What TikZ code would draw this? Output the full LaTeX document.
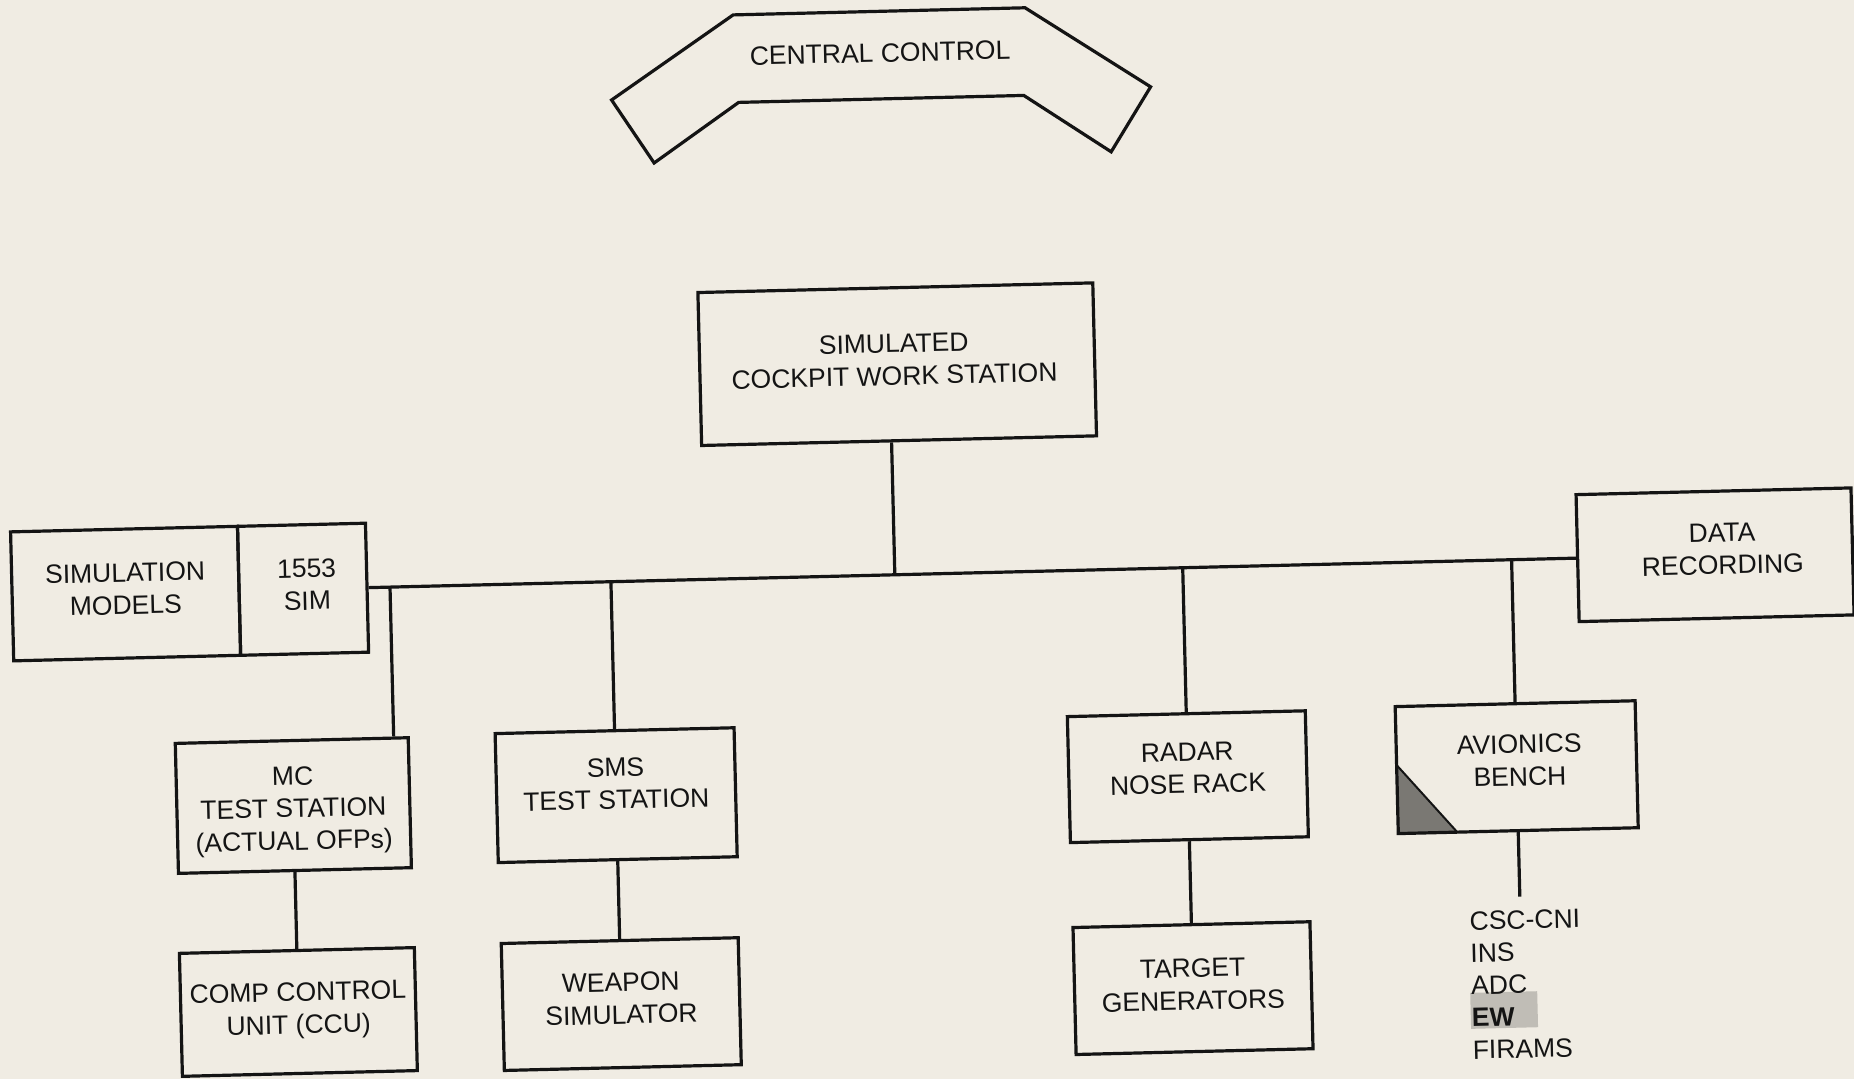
\documentclass[tikz,border=0pt]{standalone}
\usepackage{fontspec}
\setmainfont{Liberation Sans}
\definecolor{paper}{RGB}{240,236,227}
\definecolor{ink}{RGB}{20,20,20}
\definecolor{smudge}{RGB}{192,189,182}
\definecolor{stipple}{RGB}{122,120,115}
\newcommand{\lbfont}{\fontsize{26.5}{32.5}\selectfont}
\newcommand{\lstfont}{\fontsize{26.5}{32.2}\selectfont}
\newcommand{\bxlabel}[3][0pt]{\raisebox{#2}[\height][\depth]{\hspace*{#1}\begin{tabular}{@{}c@{}}#3\end{tabular}}}
\begin{document}
\begin{tikzpicture}[x=1pt,y=-1pt,
  box/.style={draw=ink, line width=3.2pt, rectangle, inner sep=0pt, font=\lbfont, text=ink},
  wire/.style={draw=ink, line width=3.2pt},
  outline/.style={draw=ink, line width=3.2pt, line join=miter},
  lbl/.style={inner sep=0pt, font=\lbfont, text=ink}]
\fill[paper] (0,0) rectangle (1854,1079);
\useasboundingbox (0,0) rectangle (1854,1079);
\begin{scope}[rotate around={1.4:(927,540)}, transform shape]
  % central control
  \draw[outline] (622.4,92.4) -- (746,10.3) -- (1038,10.3) -- (1161.6,92.4)
     -- (1120.6,156.4) -- (1034.6,97.9) -- (749.4,97.9) -- (663.4,156.4) -- cycle;
  \node[lbl] (cctext) at (892,52) {CENTRAL CONTROL};

  % shaded corner of avionics bench and smudge behind EW
  \fill[stipple] (1391,776.5) -- (1391,845) -- (1450,845) -- cycle;
  \draw[ink, line width=2pt] (1391,776.5) -- (1450,845);
  \fill[smudge] (1459,1006) rectangle (1526,1042);

  % boxes
  \node[box, minimum width=395pt, minimum height=153pt] (cws) at (901.5,363.5)
     {\bxlabel[-6pt]{1.8pt}{SIMULATED\\COCKPIT WORK STATION}};
  \node[box, minimum width=227pt, minimum height=129pt] (simmod) at (124.5,574)
     {\bxlabel{2pt}{SIMULATION\\MODELS}};
  \node[box, minimum width=128pt, minimum height=129pt] (sim1553) at (302,574)
     {\bxlabel[8pt]{2pt}{1553\\SIM}};
  \node[box, minimum width=275pt, minimum height=127pt] (data) at (1714.5,574)
     {\bxlabel[15pt]{3pt}{DATA\\RECORDING}};
  \node[box, minimum width=233pt, minimum height=130pt] (mc) at (287,790)
     {\bxlabel{-5.5pt}{MC\\TEST STATION\\(ACTUAL OFPs)}};
  \node[box, minimum width=235pt, minimum height=123pt] (ccu) at (287,996.5)
     {\bxlabel{1pt}{COMP CONTROL\\UNIT (CCU)}};
  \node[box, minimum width=239pt, minimum height=129pt] (sms) at (610,787.5)
     {\bxlabel{9pt}{SMS\\TEST STATION}};
  \node[box, minimum width=237pt, minimum height=127pt] (weapon) at (610,996.5)
     {\bxlabel{3pt}{WEAPON\\SIMULATOR}};
  \node[box, minimum width=238pt, minimum height=126pt] (radar) at (1182,783)
     {\bxlabel{6pt}{RADAR\\NOSE RACK}};
  \node[box, minimum width=237pt, minimum height=127pt] (target) at (1182,994.5)
     {\bxlabel{1pt}{TARGET\\GENERATORS}};
  \node[box, minimum width=240pt, minimum height=127pt] (av) at (1511,781.5)
     {\bxlabel[6pt]{4pt}{AVIONICS\\BENCH}};
  \node[lbl, font=\lstfont, anchor=base west] (avlist) at (1460,943.5)
     {\begin{tabular}[t]{@{}l@{}}CSC-CNI\\INS\\ADC\\\textbf{EW}\\FIRAMS\end{tabular}};

  % junctions and free ends
  \coordinate (jcws) at (894,574);
  \coordinate (jmc) at (389,574);
  \coordinate (avend) at (1511,911);

  % connectors
  \draw[wire] (sim1553.east) -- (data.west);
  \draw[wire] (cws.south -| jcws) -- (jcws);
  \draw[wire] (jmc) -- (mc.north -| jmc);
  \draw[wire] (sms.north |- sim1553.east) -- (sms.north);
  \draw[wire] (radar.north |- sim1553.east) -- (radar.north);
  \draw[wire] (av.north |- sim1553.east) -- (av.north);
  \draw[wire] (mc.south) -- (ccu.north);
  \draw[wire] (sms.south) -- (weapon.north);
  \draw[wire] (radar.south) -- (target.north);
  \draw[wire] (av.south) -- (avend);
\end{scope}
\end{tikzpicture}
\end{document}
